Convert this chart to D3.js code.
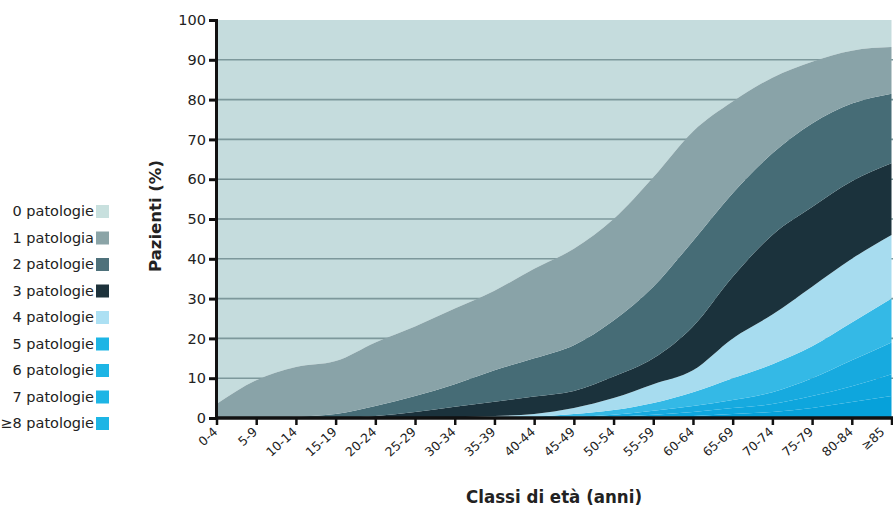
<!DOCTYPE html>
<html>
<head>
<meta charset="utf-8">
<script src="https://cdn.jsdelivr.net/npm/d3@7"></script>
<style>
	body { margin: 0; background: #fff; }
	svg text { font-family: "DejaVu Sans", sans-serif; fill: #222; }
</style>
</head>
<body>
<div id="contents"></div>
<script>
var classi = ['0-4', '5-9', '10-14', '15-19', '20-24', '25-29', '30-34', '35-39', '40-44',
	'45-49', '50-54', '55-59', '60-64', '65-69', '70-74', '75-79', '80-84', '\u226585'];

var yTicks = [0, 10, 20, 30, 40, 50, 60, 70, 80, 90, 100];

var legenda = ['0 patologie', '1 patologia', '2 patologie', '3 patologie', '4 patologie',
	'5 patologie', '6 patologie', '7 patologie', '\u22658 patologie'];

// % pazienti per numero di patologie, per classe di età
var pat0 = [96.5, 90.5, 87.2, 85.7, 81, 77, 72.5, 68, 62.5, 57.5, 50, 39.5, 28, 20.5, 14.5, 10.5, 7.7, 6.8];
var pat1 = [3.5, 9.5, 12.5, 13.3, 16, 17.5, 19, 20, 22.5, 24.2, 25.5, 27.5, 27.5, 23, 19, 15.5, 13.3, 11.7];
var pat2 = [0, 0, 0.3, 1, 2.5, 4, 5.7, 7.9, 9.6, 11.5, 14.1, 18, 21.5, 21, 20.5, 21, 19.5, 17.5];
var pat3 = [0, 0, 0, 0, 0.5, 1.5, 2.6, 3.6, 4.4, 4.3, 5.4, 6.5, 11, 15.5, 20, 20, 19.5, 18];
var pat4 = [0, 0, 0, 0, 0, 0, 0.2, 0.5, 0.7, 1.5, 3, 4.7, 5.5, 10, 12.5, 15, 16, 16];
var pat5 = [0, 0, 0, 0, 0, 0, 0, 0, 0.3, 0.7, 1.2, 2, 3.5, 5.5, 7, 8, 9.5, 11];
var pat6 = [0, 0, 0, 0, 0, 0, 0, 0, 0, 0.3, 0.5, 1, 1.5, 2, 3, 4.5, 6.5, 8];
var pat7 = [0, 0, 0, 0, 0, 0, 0, 0, 0, 0, 0.3, 0.5, 1, 1.5, 2, 3, 4, 5.5];
var pat8 = [0, 0, 0, 0, 0, 0, 0, 0, 0, 0, 0, 0.3, 0.5, 1, 1.5, 2.5, 4, 5.5];

var Chart = function() {
	this.svg = d3.select("#contents")
		.append("svg")
		.attr("width", 893)
		.attr("height", 508);
	this.x = d3.scalePoint().domain(classi).range([216.5, 891.5]);
	this.y = d3.scaleLinear().domain([0, 100]).range([418, 20]);
	// colori dal basso (>=8) verso l'alto (0)
	this.colori = ['#c5dcdd', '#89a3a8', '#466c76', '#1b323c', '#a7dcef',
		'#34b9e6', '#17aadf', '#0ea6dd', '#06a1da'];
	this.coloriLegenda = ['#c8e0de', '#8ba4a7', '#4e717b', '#1d323b', '#ace0f3',
		'#1db5e5', '#1db5e5', '#1db5e5', '#1db5e5'];
};

Chart.prototype.draw = function() {
	var x = this.x, y = this.y, svg = this.svg;
	var serie = [pat8, pat7, pat6, pat5, pat4, pat3, pat2, pat1, pat0];
	var rows = classi.map(function(c, i) {
		var r = { classe: c };
		serie.forEach(function(s, k) { r['k' + k] = s[i]; });
		return r;
	});
	var keys = serie.map(function(s, k) { return 'k' + k; });
	var stacked = d3.stack().keys(keys)(rows);

	var area = d3.area()
		.x(function(d) { return x(d.data.classe); })
		.y0(function(d) { return y(d[0]); })
		.y1(function(d) { return y(d[1]); })
		.curve(d3.curveMonotoneX);

	var colori = this.colori;
	// strato 0 patologie come sfondo
	svg.append("path")
		.datum(stacked[8])
		.attr("d", area)
		.attr("fill", colori[0]);

	svg.append("g").selectAll("line")
		.data(yTicks.slice(1, -1))
		.enter()
		.append("line")
		.attr("x1", 216).attr("x2", 893)
		.attr("y1", function(d) { return y(d); })
		.attr("y2", function(d) { return y(d); })
		.attr("stroke", "#7d989b")
		.attr("stroke-width", 1.6);

	svg.append("g").selectAll("path")
		.data(stacked.slice(0, 8))
		.enter()
		.append("path")
		.attr("d", area)
		.attr("fill", function(d, i) { return colori[8 - i]; });

	// assi
	var yAxis = d3.axisLeft(y).tickValues(yTicks).tickSize(7).tickPadding(3);
	var gy = svg.append("g").attr("transform", "translate(216,0)").call(yAxis);
	gy.select(".domain").attr("stroke", "#111").attr("stroke-width", 3);
	gy.selectAll(".tick line").attr("stroke", "#111").attr("stroke-width", 3);
	gy.selectAll("text").style("font-size", "14.5px").attr("fill", "#222");

	var xAxis = d3.axisBottom(x).tickSize(7).tickFormat("");
	var gx = svg.append("g").attr("transform", "translate(0,418)").call(xAxis);
	gx.select(".domain").attr("d", "M215,0H893").attr("stroke", "#111").attr("stroke-width", 3.5);
	gx.selectAll(".tick line").attr("stroke", "#111").attr("stroke-width", 2.5);

	var ultimo = classi.length - 1;
	svg.append("g").selectAll("text")
		.data(classi)
		.enter()
		.append("text")
		.attr("transform", function(d, i) {
			// l'ultima etichetta tocca il bordo: spostata un poco a sinistra
			var dx = i == ultimo ? -6 : 2;
			return "translate(" + (x(d) + dx) + ",433) rotate(-42)";
		})
		.attr("text-anchor", "end")
		.style("font-size", "12.5px")
		.text(function(d) { return d; });

	svg.append("text")
		.attr("transform", "translate(161,216) rotate(-90)")
		.attr("text-anchor", "middle")
		.style("font-size", "16.5px")
		.style("font-weight", "bold")
		.text("Pazienti (%)");

	svg.append("text")
		.attr("x", 554).attr("y", 503)
		.attr("text-anchor", "middle")
		.style("font-family", "'DejaVu Sans Condensed', 'DejaVu Sans', sans-serif")
		.style("font-size", "18.5px")
		.style("font-weight", "bold")
		.text("Classi di et\u00e0 (anni)");
};

Chart.prototype.legend = function() {
	var cl = this.coloriLegenda;
	var g = this.svg.append("g").selectAll("g")
		.data(legenda)
		.enter()
		.append("g")
		.attr("transform", function(d, i) { return "translate(0," + (211 + i * 26.5) + ")"; });
	g.append("text")
		.attr("x", 94).attr("y", 5)
		.attr("text-anchor", "end")
		.style("font-size", "14.5px")
		.text(function(d) { return d; });
	g.append("rect")
		.attr("x", 96).attr("y", -6)
		.attr("width", 13).attr("height", 13)
		.attr("fill", function(d, i) { return cl[i]; });
};

var chart = new Chart();
chart.draw();
chart.legend();
</script>
</body>
</html>
